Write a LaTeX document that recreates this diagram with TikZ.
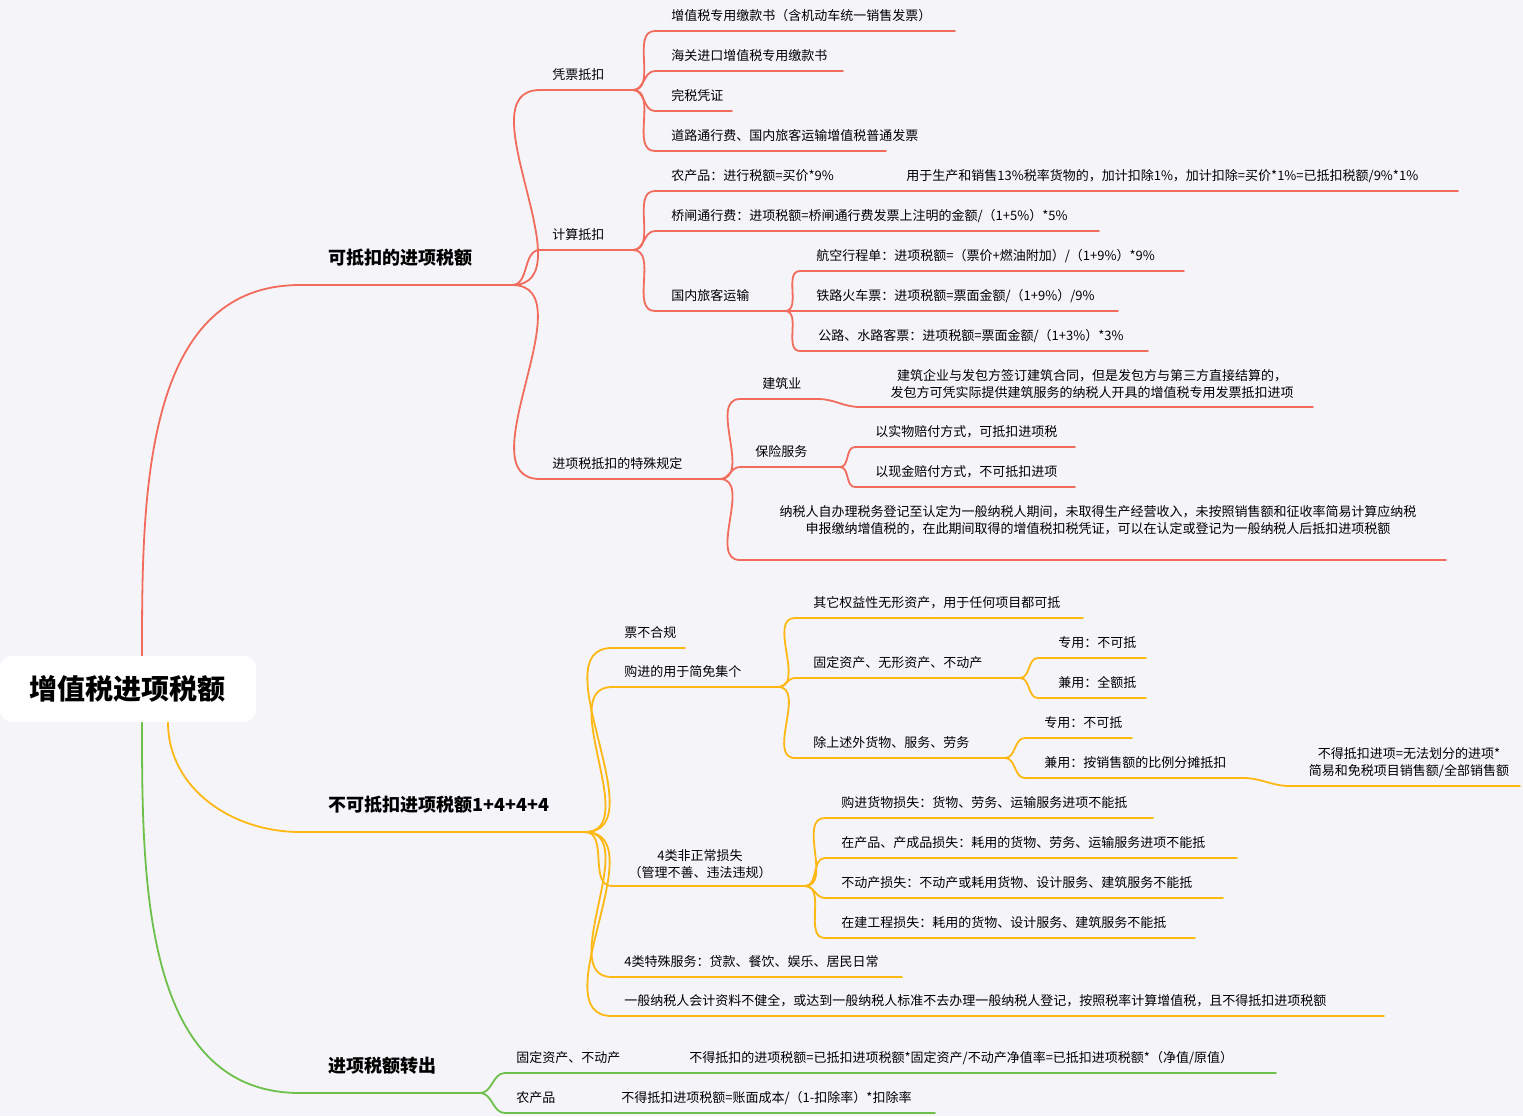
\documentclass[tikz,border=0pt]{standalone}
\usepackage{fontspec}
\setmainfont{Noto Sans CJK SC}
\usetikzlibrary{positioning}
\definecolor{bgcol}{HTML}{F5F4F9}
\definecolor{redbr}{HTML}{F16C5C}
\definecolor{orangebr}{HTML}{FDB813}
\definecolor{greenbr}{HTML}{6DC04A}
\tikzset{
	topictext/.style={anchor=west, inner sep=0pt, text=black, font=\fontsize{6.5}{8}\selectfont},
	maintext/.style={anchor=west, inner sep=0pt, text=black, font=\fontsize{9}{11}\selectfont\bfseries},
	twoline/.style={inner sep=0pt, align=center, text=black, font=\fontsize{6.5}{8.5}\selectfont},
	branch/.style={line width=0.9pt, line cap=round},
	link/.style={branch, out=0, in=180}
}
% topic: name, x start, x end, y of underline, x of text, text
\newcommand\topic[6]{%
	\coordinate (#1-s) at (#2,#4);
	\coordinate (#1-e) at (#3,#4);
	\draw[branch] (#1-s) -- (#1-e);
	\node[topictext] (#1) at (#5,#4-15) {#6};}
\newcommand\fork[2]{%
	\coordinate (#1-f) at ([xshift=#2*0.5pt]#1-e);
	\draw[branch] (#1-e) -- (#1-f);}
\newcommand\link[2]{\draw[link] (#1-f) to (#2-s);}
\begin{document}
\begin{tikzpicture}[x=0.5pt, y=-0.5pt]
	\useasboundingbox (0,0) rectangle (1523,1116);
	\fill[bgcol] (0,0) rectangle (1523,1116);

	% Root %
	\coordinate (root-r) at (142,656);
	\coordinate (root-o) at (168,722);
	\coordinate (root-g) at (142,722);

	% Deductible %
	\begin{scope}[redbr]
	\coordinate (ded-s) at (300,285);
	\coordinate (ded-e) at (512,285);
	\draw[branch] (root-r) to[out=90, in=180] (ded-s) -- (ded-e);
	\node[maintext] (ded) at (328,258) {可抵扣的进项税额};
	\coordinate (ded-f) at (ded-e);

	\topic{vouch}{540}{612}{90}{552}{凭票抵扣}
	\topic{calc}{540}{612}{250}{552}{计算抵扣}
	\topic{spec}{540}{697}{479}{552}{进项税抵扣的特殊规定}
	\foreach \c in {vouch, calc, spec} {\link{ded}{\c}}

	\fork{vouch}{21}
	\topic{v1}{655}{955}{31}{671}{增值税专用缴款书（含机动车统一销售发票）}
	\topic{v2}{655}{843}{71}{671}{海关进口增值税专用缴款书}
	\topic{v3}{655}{732}{111}{671}{完税凭证}
	\topic{v4}{655}{886}{151}{671}{道路通行费、国内旅客运输增值税普通发票}
	\foreach \c in {v1, v2, v3, v4} {\link{vouch}{\c}}

	\fork{calc}{21}
	\topic{farm}{655}{850}{191}{671}{农产品：进行税额=买价*9\%}
	\topic{farmx}{850}{1458}{191}{906}{用于生产和销售13\%税率货物的，加计扣除1\%，加计扣除=买价*1\%=已抵扣税额/9\%*1\%}
	\topic{toll}{655}{1099}{231}{671}{桥闸通行费：进项税额=桥闸通行费发票上注明的金额/（1+5\%）*5\%}
	\topic{pass}{655}{760}{311}{671}{国内旅客运输}
	\foreach \c in {farm, toll, pass} {\link{calc}{\c}}

	\fork{pass}{25}
	\topic{air}{800}{1184}{271}{816}{航空行程单：进项税额=（票价+燃油附加）/（1+9\%）*9\%}
	\topic{rail}{800}{1118}{311}{816}{铁路火车票：进项税额=票面金额/（1+9\%）/9\%}
	\topic{road}{800}{1148}{351}{818}{公路、水路客票：进项税额=票面金额/（1+3\%）*3\%}
	\foreach \c in {air, rail, road} {\link{pass}{\c}}

	\fork{spec}{23}
	\topic{build}{740}{818}{399}{762}{建筑业}
	\topic{insur}{740}{818}{467}{755}{保险服务}
	\coordinate (selfreg-s) at (740,560);
	\coordinate (selfreg-e) at (1446,560);
	\draw[branch] (selfreg-s) -- (selfreg-e);
	\node[twoline] (selfreg) at (1098,520) {纳税人自办理税务登记至认定为一般纳税人期间，未取得生产经营收入，未按照销售额和征收率简易计算应纳税\\申报缴纳增值税的，在此期间取得的增值税扣税凭证，可以在认定或登记为一般纳税人后抵扣进项税额};
	\foreach \c in {build, insur, selfreg} {\link{spec}{\c}}

	\coordinate (build-f) at (build-e);
	\coordinate (buildx-s) at (860,407);
	\coordinate (buildx-e) at (1313,407);
	\draw[branch] (buildx-s) -- (buildx-e);
	\node[twoline] (buildx) at (1092,384) {建筑企业与发包方签订建筑合同，但是发包方与第三方直接结算的，\\发包方可凭实际提供建筑服务的纳税人开具的增值税专用发票抵扣进项};
	\link{build}{buildx}

	\fork{insur}{22}
	\topic{kind}{855}{1075}{447}{875}{以实物赔付方式，可抵扣进项税}
	\topic{cash}{855}{1075}{487}{875}{以现金赔付方式，不可抵扣进项}
	\foreach \c in {kind, cash} {\link{insur}{\c}}
	\end{scope}

	% Non-deductible %
	\begin{scope}[orangebr]
	\coordinate (non-s) at (300,832);
	\coordinate (non-e) at (585,832);
	\draw[branch] (root-o) to[out=-90, in=180] (non-s) -- (non-e);
	\node[maintext] (non) at (328,805) {不可抵扣进项税额1+4+4+4};
	\coordinate (non-f) at (non-e);

	\topic{bill}{612}{685}{648}{624}{票不合规}
	\topic{simple}{612}{755}{687}{624}{购进的用于简免集个}
	\coordinate (loss-s) at (612,886);
	\coordinate (loss-e) at (782,886);
	\draw[branch] (loss-s) -- (loss-e);
	\node[twoline] (loss) at (700,864) {4类非正常损失\\（管理不善、违法违规）};
	\topic{serv}{612}{902}{977}{624}{4类特殊服务：贷款、餐饮、娱乐、居民日常}
	\topic{acct}{612}{1384}{1016}{624}{一般纳税人会计资料不健全，或达到一般纳税人标准不去办理一般纳税人登记，按照税率计算增值税，且不得抵扣进项税额}
	\foreach \c in {bill, simple, loss, serv, acct} {\link{non}{\c}}

	\fork{simple}{23}
	\topic{right}{795}{1083}{618}{813}{其它权益性无形资产，用于任何项目都可抵}
	\topic{fixed}{795}{1000}{678}{813}{固定资产、无形资产、不动产}
	\topic{other}{795}{985}{758}{813}{除上述外货物、服务、劳务}
	\foreach \c in {right, fixed, other} {\link{simple}{\c}}

	\fork{fixed}{20}
	\topic{fdedic}{1038}{1146}{658}{1058}{专用：不可抵}
	\topic{fmixed}{1038}{1146}{698}{1058}{兼用：全额抵}
	\foreach \c in {fdedic, fmixed} {\link{fixed}{\c}}

	\fork{other}{20}
	\topic{odedic}{1025}{1132}{738}{1044}{专用：不可抵}
	\topic{omixed}{1025}{1243}{778}{1044}{兼用：按销售额的比例分摊抵扣}
	\foreach \c in {odedic, omixed} {\link{other}{\c}}

	\coordinate (omixed-f) at (omixed-e);
	\coordinate (ratio-s) at (1290,786);
	\coordinate (ratio-e) at (1520,786);
	\draw[branch] (ratio-s) -- (ratio-e);
	\node[twoline] (ratio) at (1409,763) {不得抵扣进项=无法划分的进项*\\简易和免税项目销售额/全部销售额};
	\link{omixed}{ratio}

	\fork{loss}{23}
	\topic{l1}{825}{1153}{818}{841}{购进货物损失：货物、劳务、运输服务进项不能抵}
	\topic{l2}{825}{1237}{858}{841}{在产品、产成品损失：耗用的货物、劳务、运输服务进项不能抵}
	\topic{l3}{825}{1223}{898}{841}{不动产损失：不动产或耗用货物、设计服务、建筑服务不能抵}
	\topic{l4}{825}{1195}{938}{841}{在建工程损失：耗用的货物、设计服务、建筑服务不能抵}
	\foreach \c in {l1, l2, l3, l4} {\link{loss}{\c}}
	\end{scope}

	% Transfer out %
	\begin{scope}[greenbr]
	\coordinate (out-s) at (300,1093);
	\coordinate (out-e) at (480,1093);
	\draw[branch] (root-g) to[out=-90, in=180] (out-s) -- (out-e);
	\node[maintext] (out) at (328,1066) {进项税额转出};
	\coordinate (out-f) at (out-e);

	\topic{ofix}{505}{632}{1073}{516}{固定资产、不动产}
	\topic{ofarm}{505}{560}{1113}{516}{农产品}
	\foreach \c in {ofix, ofarm} {\link{out}{\c}}

	\topic{ofixx}{632}{1276}{1073}{689}{不得抵扣的进项税额=已抵扣进项税额*固定资产/不动产净值率=已抵扣进项税额*（净值/原值）}
	\topic{ofarmx}{560}{935}{1113}{621}{不得抵扣进项税额=账面成本/（1-扣除率）*扣除率}
	\end{scope}

	% Root box on top %
	\node[fill=white, rounded corners=6pt, minimum width=128pt, minimum height=33pt, font=\fontsize{14}{16}\selectfont\bfseries] (root) at (128,689) {增值税进项税额};
\end{tikzpicture}
\end{document}
